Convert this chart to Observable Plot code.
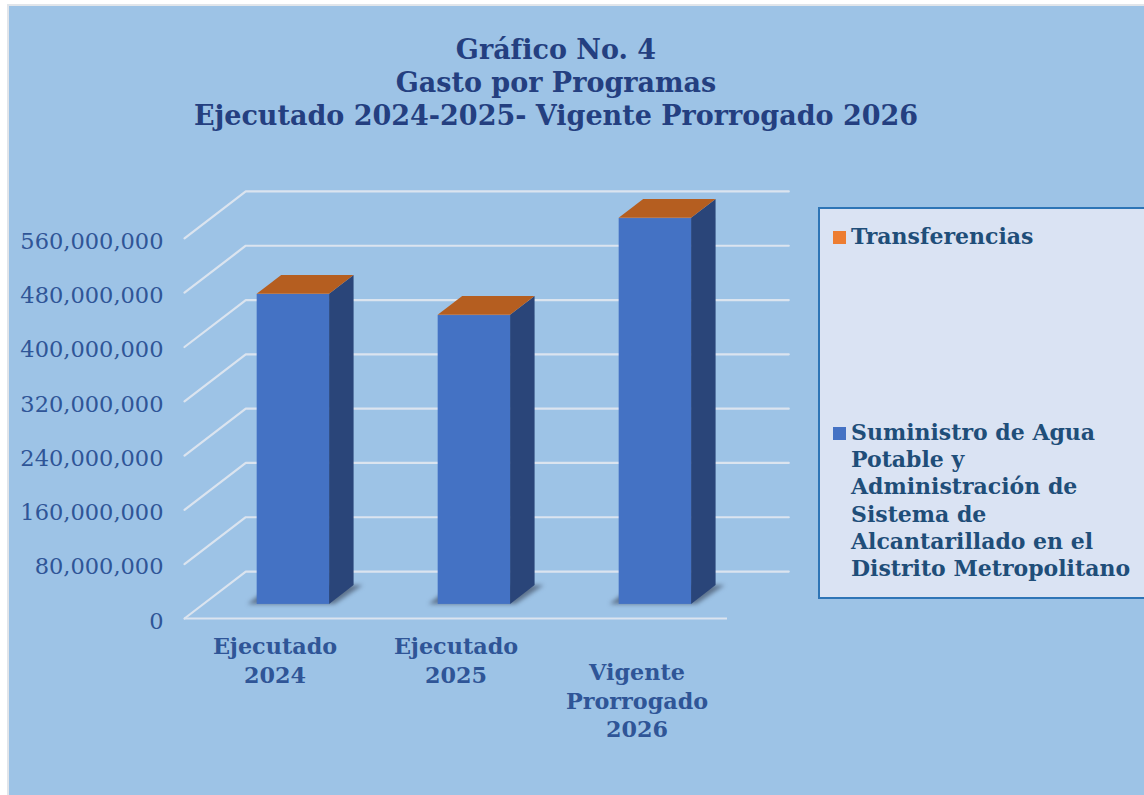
<!DOCTYPE html>
<html lang="es">
<head>
<meta charset="utf-8">
<script src="https://cdn.jsdelivr.net/npm/d3@7"></script>
<script src="https://cdn.jsdelivr.net/npm/@observablehq/plot@0.6"></script>
<style>
  html, body { margin: 0; padding: 0; background: #fff; }
  #card { position: absolute; left: 7px; top: 4px; width: 1137px; height: 791px; box-sizing: border-box;
          background: #9dc3e6; border-left: 2px solid #e1e5ea; border-top: 2px solid #e1e5ea; }
  #chart { position: absolute; left: 0; top: 0; }
  #title { position: absolute; left: 0; width: 1112px; top: 33px; text-align: center;
           font: bold 27px/33px "DejaVu Serif", serif; color: #243f80; }
  #legend { position: absolute; left: 818px; top: 207px; width: 326px; height: 392px; box-sizing: border-box;
            background: #dae3f3; border: 2px solid #2e75b6; border-right: none;
            font: bold 22px/27.2px "DejaVu Serif", serif; color: #1f4e79; }
  .item { position: absolute; left: 31px; white-space: pre-line; }
  .swatch { position: absolute; width: 13px; height: 13px; left: 13px; }
</style>
</head>
<body>
<div id="card"></div>
<div id="chart"></div>
<div id="title">Gráfico No. 4<br>Gasto por Programas<br>Ejecutado 2024-2025- Vigente Prorrogado 2026</div>
<div id="legend"></div>
<script>
const categories = ["Ejecutado\n2024", "Ejecutado\n2025", "Vigente\nProrrogado\n2026"];
const agua = [456600000, 425600000, 568500000];
const transferencias = [300000, 300000, 300000];
const yTicks = [0, 80000000, 160000000, 240000000, 320000000, 400000000, 480000000, 560000000];
const seriesNames = ["Transferencias", "Suministro de Agua\nPotable y\nAdministración de\nSistema de\nAlcantarillado en el\nDistrito Metropolitano"];
const seriesColors = ["#ed7d31", "#4472c4"];

// Oblique 3-D projection, expressed in scale units
const DX = 0.3385, DV = 69200000;
const px = (x, z) => x + z * DX;
const pv = (v, z) => v + z * DV;
const Z0 = 0.3, Z1 = 0.7, HALF = 0.2;

const bars = categories.map((c, i) => ({
  c, i, x0: i + 0.5 - HALF, x1: i + 0.5 + HALF,
  blue: agua[i], total: agua[i] + transferencias[i]
}));

const grid = yTicks.flatMap(v => [
  {v, x: px(0, 0), y: pv(v, 0)},
  {v, x: px(0, 1), y: pv(v, 1)},
  {v, x: px(3, 1), y: pv(v, 1)}
]);

const side = bars.flatMap(b => [
  {i: b.i, x: px(b.x1, Z0), y1: pv(0, Z0), y2: pv(b.total, Z0)},
  {i: b.i, x: px(b.x1, Z1), y1: pv(0, Z1), y2: pv(b.total, Z1)}
]);
const top_ = bars.flatMap(b => [
  {i: b.i, x1: px(b.x0, Z0), x2: px(b.x1, Z0), y: pv(b.total, Z0)},
  {i: b.i, x1: px(b.x0, Z1), x2: px(b.x1, Z1), y: pv(b.total, Z1)}
]);
const shadow = bars.flatMap(b => [
  {i: b.i, x1: px(b.x0 - 0.05, Z0), x2: px(b.x1 + 0.03, Z0), y: pv(0, Z0)},
  {i: b.i, x1: px(b.x0 - 0.05, Z1), x2: px(b.x1 + 0.05, Z1), y: pv(0, Z1)}
]);

const fmt = d3.format(",");
const labelFont = {fontFamily: "DejaVu Serif, serif", fontSize: 22.3, fontWeight: "bold", fill: "#2f5597"};

const plot = Plot.plot({
  width: 1144, height: 795,
  marginLeft: 0, marginRight: 0, marginTop: 0, marginBottom: 0,
  style: {background: "transparent", overflow: "visible"},
  x: {type: "linear", domain: [0, 3], range: [184, 727], axis: null},
  y: {type: "linear", domain: [0, 560000000], range: [618, 237.9], axis: null},
  marks: [
    Plot.line(grid, {x: "x", y: "y", z: "v", stroke: "#dbe4ef", strokeWidth: 2.2}),
    Plot.ruleY([0], {x1: 0, x2: 3, stroke: "#dbe4ef", strokeWidth: 2.2}),
    Plot.area(shadow, {x1: "x1", x2: "x2", y1: "y", y2: "y", z: "i", fill: "#4a5a70", fillOpacity: 0.75, imageFilter: "blur(2px)"}),
    Plot.area(side, {x1: "x", x2: "x", y1: "y1", y2: "y2", z: "i", fill: "#2a4579"}),
    Plot.area(top_, {x1: "x1", x2: "x2", y1: "y", y2: "y", z: "i", fill: "#b55e20"}),
    Plot.rect(bars, {x1: d => px(d.x0, Z0), x2: d => px(d.x1, Z0), y1: () => pv(0, Z0), y2: d => pv(d.blue, Z0), fill: seriesColors[1]}),
    Plot.rect(bars, {x1: d => px(d.x0, Z0), x2: d => px(d.x1, Z0), y1: d => pv(d.blue, Z0), y2: d => pv(d.total, Z0), fill: seriesColors[0]}),
    Plot.text(yTicks, {
      x: 0, y: d => d, text: d => fmt(d), textAnchor: "end", dx: -21, dy: 3,
      fontFamily: "DejaVu Serif, serif", fontSize: 22.5, fill: "#2f5597"
    }),
    Plot.text(bars.filter(b => b.i < 2), {x: d => d.i + 0.5, y: 0, text: "c", lineAnchor: "top", dy: 16, lineHeight: 1.26, ...labelFont}),
    Plot.text(bars.filter(b => b.i === 2), {x: d => d.i + 0.5, y: 0, text: "c", lineAnchor: "top", dy: 42, lineHeight: 1.26, ...labelFont})
  ]
});
document.getElementById("chart").appendChild(plot);

const legend = document.getElementById("legend");
const tops = [14, 210];
seriesNames.forEach((name, i) => {
  const sw = document.createElement("div");
  sw.className = "swatch";
  sw.style.background = seriesColors[i];
  sw.style.top = (tops[i] + 8) + "px";
  legend.appendChild(sw);
  const t = document.createElement("div");
  t.className = "item";
  t.style.top = tops[i] + "px";
  t.textContent = name;
  legend.appendChild(t);
});
</script>
</body>
</html>
